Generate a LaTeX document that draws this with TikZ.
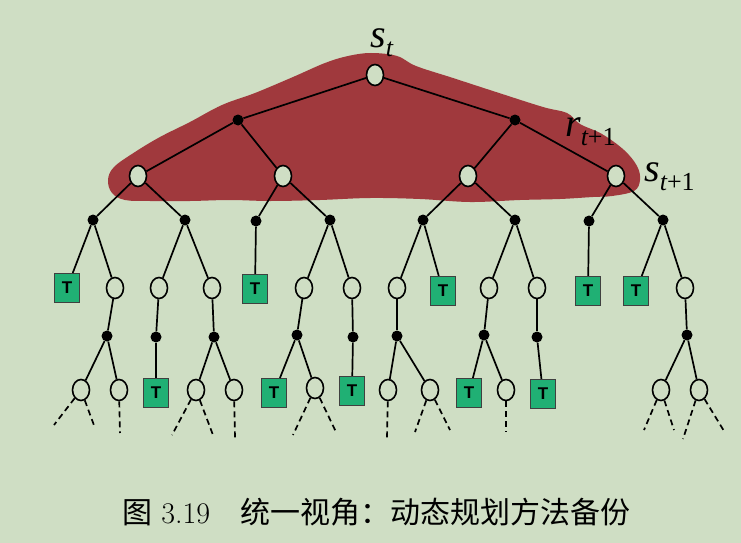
\documentclass[tikz,border=0pt]{standalone}
\usepackage{fontspec}
\usetikzlibrary{shapes.geometric}
\newfontfamily\cjk{Noto Sans CJK SC}
\newfontfamily\tms{Liberation Serif}
\newfontfamily\hv{Liberation Sans}
\definecolor{bg}{RGB}{207,222,196}
\definecolor{blob}{RGB}{160,57,61}
\definecolor{tgreen}{RGB}{32,176,116}
\newcommand{\symlab}[2]{{\tms\itshape\fontsize{40}{42}\selectfont #1}{\tms\fontsize{26}{28}\selectfont\raisebox{-9pt}{#2}}}
\begin{document}
\begin{tikzpicture}[x=1pt,y=-1pt,
  st/.style={ellipse, draw, line width=1.6pt, fill=bg, minimum width=17pt, minimum height=21pt, inner sep=0pt},
  ac/.style={circle, fill=black, minimum size=11pt, inner sep=0pt},
  tb/.style={draw=black!75, line width=1.1pt, fill=tgreen, minimum width=25pt, minimum height=29pt, inner sep=0pt, font=\hv\bfseries\fontsize{17}{17}\selectfont},
  ed/.style={line width=1.7pt},
  dd/.style={line width=1.7pt, dash pattern=on 6pt off 4pt},
  lab/.style={inner sep=0pt, anchor=base west}]
\fill[bg] (0,0) rectangle (741,543);
\useasboundingbox (0,0) rectangle (741,543);
% backup blob
\fill[blob] plot[smooth cycle, tension=0.6] coordinates {
 (371,53) (397,56) (416,66) (453,78) (496,92) (543,107) (567,113) (580,124)
 (602,134) (624,150) (637,166) (640,180) (634,191) (612,196) (593,197)
 (560,199) (520,200) (470,202) (420,199) (370,198) (320,200) (270,201)
 (230,200) (190,201) (150,201) (125,200) (112,193) (108,180) (114,167)
 (135,152) (160,137) (190,122) (222,105) (255,93) (293,77) (325,63) (348,56)};
% labels
\node[lab] (lst) at (370,48) {\symlab{s}{\itshape t}};
\node[lab] (lrt) at (565,136) {\symlab{r}{\itshape t\upshape +1}};
\node[lab] (lst1) at (644,181) {\symlab{s}{\itshape t\upshape +1}};
% level 0-2
\node[st] (R) at (375,75) {};
\node[ac] (A1) at (238,120) {};
\node[ac] (A2) at (515,120) {};
\node[st] (S1) at (138,176) {};
\node[st] (S2) at (283,176) {};
\node[st] (S3) at (468,176) {};
\node[st] (S4) at (616,176) {};
% level 3
\node[ac] (B1) at (93,220) {};
\node[ac] (B2) at (185,220) {};
\node[ac] (B3) at (256,221) {};
\node[ac] (B4) at (330,220) {};
\node[ac] (B5) at (423,220) {};
\node[ac] (B6) at (515,220) {};
\node[ac] (B7) at (589,221) {};
\node[ac] (B8) at (663,220) {};
% level 4
\node[tb] (T1) at (67,288) {T};
\node[st] (C1) at (115,288) {};
\node[st] (C2) at (159,288) {};
\node[st] (C3) at (212,288) {};
\node[tb] (T2) at (255,289) {T};
\node[st] (C4) at (304,288) {};
\node[st] (C5) at (352,288) {};
\node[st] (C6) at (397,288) {};
\node[tb] (T3) at (443,291) {T};
\node[st] (C7) at (489,288) {};
\node[st] (C8) at (537,288) {};
\node[tb] (T4) at (588,291) {T};
\node[tb] (T5) at (636,291) {T};
\node[st] (C9) at (685,288) {};
% level 5
\node[ac] (D1) at (107,336) {};
\node[ac] (D2) at (156,337) {};
\node[ac] (D3) at (214,337) {};
\node[ac] (D4) at (297,335) {};
\node[ac] (D5) at (353,337) {};
\node[ac] (D6) at (397,336) {};
\node[ac] (D7) at (484,335) {};
\node[ac] (D8) at (537,337) {};
\node[ac] (D9) at (687,335) {};
% level 6
\node[st] (E1) at (81,390) {};
\node[st] (E2) at (119,390) {};
\node[tb] (T6) at (156,393) {T};
\node[st] (E3) at (196,390) {};
\node[st] (E4) at (234,390) {};
\node[tb] (T7) at (274,393) {T};
\node[st] (E5) at (315,388) {};
\node[tb] (T8) at (352,391) {T};
\node[st] (E6) at (388,390) {};
\node[st] (E7) at (430,390) {};
\node[tb] (T9) at (469,393) {T};
\node[st] (E8) at (506,390) {};
\node[tb] (T10) at (543,394) {T};
\node[st] (E9) at (661,390) {};
\node[st] (E10) at (699,390) {};
% dashed ends
\coordinate (e1a) at (54,425); \coordinate (e1b) at (95,428);
\coordinate (e2a) at (120,433);
\coordinate (e3a) at (172,435); \coordinate (e3b) at (213,435);
\coordinate (e4a) at (235,438);
\coordinate (e5a) at (293,435); \coordinate (e5b) at (336,432);
\coordinate (e6a) at (387,438);
\coordinate (e7a) at (415,432); \coordinate (e7b) at (450,430);
\coordinate (e8a) at (506,432);
\coordinate (e9a) at (644,430); \coordinate (e9b) at (674,430);
\coordinate (e10a) at (683,439); \coordinate (e10b) at (724,431);
% edges
\draw[ed] (R) -- (A1); \draw[ed] (R) -- (A2);
\draw[ed] (A1) -- (S1); \draw[ed] (A1) -- (S2);
\draw[ed] (A2) -- (S3); \draw[ed] (A2) -- (S4);
\draw[ed] (S1) -- (B1); \draw[ed] (S1) -- (B2);
\draw[ed] (S2) -- (B3); \draw[ed] (S2) -- (B4);
\draw[ed] (S3) -- (B5); \draw[ed] (S3) -- (B6);
\draw[ed] (S4) -- (B7); \draw[ed] (S4) -- (B8);
\draw[ed] (B1) -- (T1); \draw[ed] (B1) -- (C1);
\draw[ed] (B2) -- (C2); \draw[ed] (B2) -- (C3);
\draw[ed] (B3) -- (T2);
\draw[ed] (B4) -- (C4); \draw[ed] (B4) -- (C5);
\draw[ed] (B5) -- (C6); \draw[ed] (B5) -- (T3);
\draw[ed] (B6) -- (C7); \draw[ed] (B6) -- (C8);
\draw[ed] (B7) -- (T4);
\draw[ed] (B8) -- (T5); \draw[ed] (B8) -- (C9);
\draw[ed] (C1) -- (D1); \draw[ed] (C2) -- (D2); \draw[ed] (C3) -- (D3);
\draw[ed] (C4) -- (D4); \draw[ed] (C5) -- (D5); \draw[ed] (C6) -- (D6);
\draw[ed] (C7) -- (D7); \draw[ed] (C8) -- (D8); \draw[ed] (C9) -- (D9);
\draw[ed] (D1) -- (E1); \draw[ed] (D1) -- (E2);
\draw[ed] (D2) -- (T6);
\draw[ed] (D3) -- (E3); \draw[ed] (D3) -- (E4);
\draw[ed] (D4) -- (T7); \draw[ed] (D4) -- (E5);
\draw[ed] (D5) -- (T8);
\draw[ed] (D6) -- (E6); \draw[ed] (D6) -- (E7);
\draw[ed] (D7) -- (T9); \draw[ed] (D7) -- (E8);
\draw[ed] (D8) -- (T10);
\draw[ed] (D9) -- (E9); \draw[ed] (D9) -- (E10);
\draw[dd] (E1) -- (e1a); \draw[dd] (E1) -- (e1b);
\draw[dd] (E2) -- (e2a);
\draw[dd] (E3) -- (e3a); \draw[dd] (E3) -- (e3b);
\draw[dd] (E4) -- (e4a);
\draw[dd] (E5) -- (e5a); \draw[dd] (E5) -- (e5b);
\draw[dd] (E6) -- (e6a);
\draw[dd] (E7) -- (e7a); \draw[dd] (E7) -- (e7b);
\draw[dd] (E8) -- (e8a);
\draw[dd] (E9) -- (e9a); \draw[dd] (E9) -- (e9b);
\draw[dd] (E10) -- (e10a); \draw[dd] (E10) -- (e10b);
% caption
\node[inner sep=0pt, anchor=base west] (cap) at (122,523) {\fontsize{30}{32}\selectfont{\cjk 图} 3.19\quad{\cjk 统一视角：动态规划方法备份}};
\end{tikzpicture}
\end{document}
